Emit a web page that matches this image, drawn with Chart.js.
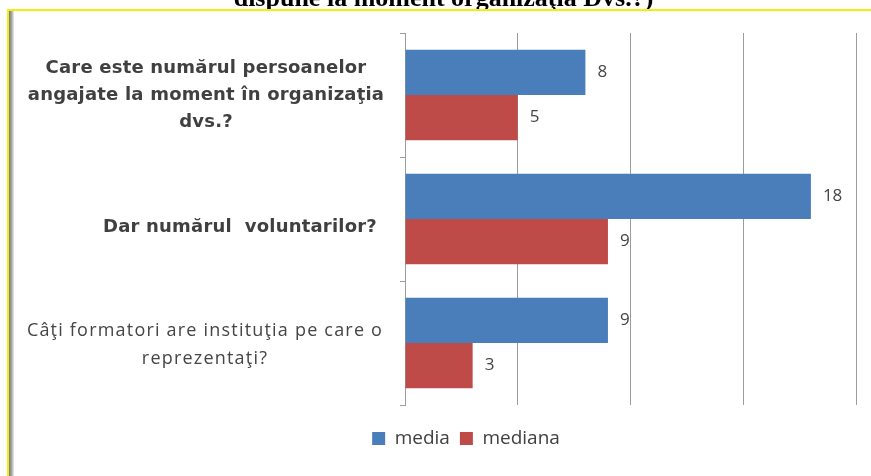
<!DOCTYPE html>
<html>
<head>
<meta charset="utf-8">
<script src="https://cdn.jsdelivr.net/npm/chart.js@4.4.0/dist/chart.umd.min.js"></script>
<style>
  html, body { margin: 0; padding: 0; background: #fff; }
  #wrap { position: relative; width: 871px; height: 476px; overflow: hidden; background: #fff; }
  #chart { position: absolute; left: 0; top: 0; }
  #title {
    position: absolute; left: 0; top: -15px; width: 871px; padding-left: 16px; box-sizing: border-box;
    text-align: center; white-space: nowrap; color: #000;
    font: bold 26px/26px "Liberation Serif", "Times New Roman", serif;
  }
  #frame {
    position: absolute; left: 7px; top: 9px; right: 0; bottom: 0; pointer-events: none;
    border-top: 2px solid #f3ee10; border-left: 2px solid #f3ee10;
  }
  #frame::before {
    content: ''; position: absolute; left: 0; top: 0; bottom: 0; width: 5px;
    background: linear-gradient(to right, #777, #aaa 55%, #eee);
  }
</style>
</head>
<body>
<div id="wrap">
  <canvas id="chart" width="871" height="476"></canvas>
  <div id="title">dispune la moment organizaţia Dvs.?)</div>
  <div id="frame"></div>
</div>
<script>
// questions, one entry per bar group (lines as shown)
const categories = [
  ['Care este numărul persoanelor', 'angajate la moment în organizaţia', 'dvs.?'],
  ['Dar numărul  voluntarilor?'],
  ['Câţi formatori are instituţia pe care o', 'reprezentaţi?']
];
const seriesNames = ['media', 'mediana'];
const mediaValues = [8, 18, 9];
const medianaValues = [5, 9, 3];
const axisMax = 20;
const axisStep = 5;

// how each question label is set
const labelStyles = [
  { font: 'bold 18px "DejaVu Sans"', color: '#404040', cx: 206, dy: 0, lh: 27, ls: '0.2px' },
  { font: 'bold 18px "DejaVu Sans"', color: '#404040', cx: 240, dy: 8, lh: 27, ls: '0.2px' },
  { font: '18px "Open Sans"', color: '#454545', cx: 205, dy: 2, lh: 28, ls: '1.2px' }
];

const questionLabels = {
  id: 'questionLabels',
  afterDraw(chart) {
    const ctx = chart.ctx;
    const yScale = chart.scales.y;
    ctx.save();
    ctx.textAlign = 'center';
    ctx.textBaseline = 'middle';
    categories.forEach((lines, i) => {
      const st = labelStyles[i];
      const yc = yScale.getPixelForTick(i) + st.dy;
      ctx.font = st.font;
      ctx.fillStyle = st.color;
      ctx.letterSpacing = st.ls;
      lines.forEach((line, k) => {
        ctx.fillText(line, st.cx, yc + (k - (lines.length - 1) / 2) * st.lh);
      });
    });
    ctx.restore();
  }
};

const valueLabels = {
  id: 'valueLabels',
  afterDatasetsDraw(chart) {
    const ctx = chart.ctx;
    ctx.save();
    ctx.font = '17px "Open Sans"';
    ctx.fillStyle = '#454545';
    ctx.textBaseline = 'middle';
    chart.data.datasets.forEach((ds, i) => {
      chart.getDatasetMeta(i).data.forEach((bar, j) => {
        ctx.fillText(String(ds.data[j]), bar.x + 12, bar.y);
      });
    });
    ctx.restore();
  }
};

new Chart(document.getElementById('chart').getContext('2d'), {
  type: 'bar',
  data: {
    labels: categories,
    datasets: [{
      label: seriesNames[0],
      data: mediaValues,
      backgroundColor: '#4a7ebb',
      barPercentage: 1,
      categoryPercentage: 0.73
    }, {
      label: seriesNames[1],
      data: medianaValues,
      backgroundColor: '#be4b48',
      barPercentage: 1,
      categoryPercentage: 0.73
    }]
  },
  options: {
    indexAxis: 'y',
    responsive: false,
    animation: false,
    layout: { padding: { left: 76, right: 15, top: 33, bottom: 18 } },
    scales: {
      x: {
        min: 0,
        max: axisMax,
        ticks: { display: false, stepSize: axisStep },
        grid: { color: '#9c9c9c', drawTicks: false },
        border: { display: false },
        afterFit: s => { s.height = 14; }
      },
      y: {
        ticks: { display: false },
        grid: { drawOnChartArea: false, drawTicks: true, tickLength: 5, offset: true, color: '#9c9c9c' },
        border: { display: true, color: '#9c9c9c' },
        afterFit: s => { s.width = 405 - 76; }
      }
    },
    plugins: {
      legend: {
        position: 'bottom',
        labels: {
          boxWidth: 13,
          boxHeight: 13,
          padding: 10,
          color: '#404040',
          font: { family: 'Open Sans', size: 19 }
        }
      },
      tooltip: { enabled: false }
    }
  },
  plugins: [valueLabels, questionLabels]
});
</script>
</body>
</html>
